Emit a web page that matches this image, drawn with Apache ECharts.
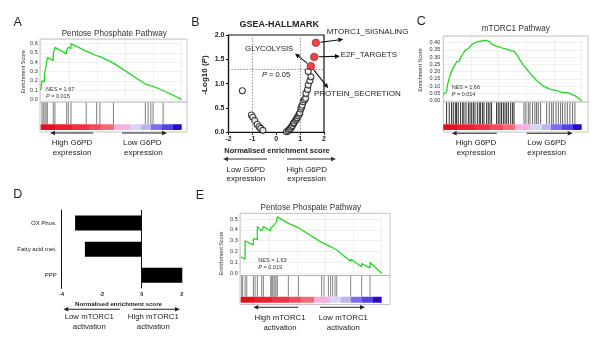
<!DOCTYPE html>
<html><head><meta charset="utf-8">
<script src="https://cdn.jsdelivr.net/npm/echarts@6/dist/echarts.min.js"></script>
<style>html,body{margin:0;padding:0;background:#fff}#c{width:600px;height:338px}</style>
</head><body><div id="c"></div>
<script>
// ---------------- DATA ----------------
// Panel A: Pentose Phosphate Pathway (G6PD) running enrichment score [rank %, ES]
const aCurve = [[0,0.10],[0.9,0.10],[0.9,0.20],[2.6,0.19],[2.6,0.27],[3.8,0.26],[3.8,0.36],[4.7,0.35],[4.7,0.45],[8.9,0.42],[8.9,0.49],[10.1,0.48],[10.1,0.56],[18.4,0.49],[18.4,0.53],[19.6,0.52],[19.6,0.56],[21.5,0.55],[21.5,0.60],[32.1,0.52],[32.1,0.53],[39.7,0.47],[39.7,0.48],[42.1,0.46],[42.1,0.465],[51.6,0.39],[51.6,0.40],[74.2,0.165],[74.2,0.17],[76.2,0.155],[76.2,0.16],[78.1,0.145],[79.7,0.14],[79.7,0.15],[86.8,0.095],[86.8,0.115],[100,0.0]];
const aHits = [0.9,1.8,3.0,3.8,4.7,8.9,10.1,18.4,19.6,21.5,32.3,39.7,42.0,51.6,74.2,76.2,78.1,79.7,86.8];
const aStats = {nes:'1.67', p:'0.015'};
const aYTicks = [0, 0.1, 0.6];

// Panel C: mTORC1 Pathway
const cCurve = [[0,0.045],[1.0,0.035],[2.4,0.06],[3.0,0.11],[4.3,0.12],[4.8,0.17],[6.0,0.18],[6.7,0.22],[8.0,0.22],[8.7,0.25],[9.6,0.27],[10.8,0.28],[11.5,0.27],[12.5,0.30],[13.5,0.30],[14.0,0.32],[15.6,0.345],[16.4,0.34],[18.1,0.36],[19.3,0.37],[20.5,0.385],[21.7,0.39],[22.9,0.40],[24.6,0.405],[26.0,0.415],[27.0,0.41],[28.4,0.405],[29.4,0.415],[30.1,0.41],[31.3,0.415],[32.5,0.42],[33.7,0.405],[34.9,0.39],[36.1,0.385],[38.5,0.375],[40.9,0.37],[43.4,0.36],[45.8,0.355],[48.7,0.345],[51.1,0.34],[53,0.32],[55.5,0.28],[57.8,0.245],[60,0.22],[62.6,0.19],[65,0.165],[67.4,0.14],[70,0.12],[72.2,0.10],[74.7,0.09],[77,0.08],[79.5,0.075],[81.9,0.07],[84.8,0.06],[86.7,0.055],[89.6,0.055],[91.5,0.05],[93.4,0.04],[95.1,0.035],[96.3,0.03],[98,0.015],[100,0.0]];
const cHits = [2.4,4.3,6.0,7.2,8.7,9.6,10.8,12.5,14.0,14.9,16.4,18.1,19.3,20.5,21.7,22.9,24.6,26.0,27.0,28.4,29.4,31.3,32.5,33.7,34.9,38.5,39.7,40.9,42.1,43.4,44.6,45.8,47.0,48.7,50.1,51.1,58.3,59.7,61.4,62.6,64.5,66.2,67.4,68.6,70.3,74.7,76.6,78.3,79.5,81.4,83.1,84.8,86.2,87.9,89.6,91.5,93.4,95.1];
const cStats = {nes:'1.66', p:'0.014'};
const cYTicks = [0, 0.05, 0.40];

// Panel E: Pentose Phospate Pathway (mTORC1)
const eCurve = [[0,0.15],[3.1,0.13],[3.1,0.30],[9.0,0.26],[9.0,0.32],[11.8,0.31],[11.8,0.43],[14.9,0.39],[16.1,0.38],[16.1,0.43],[21.3,0.39],[21.3,0.42],[22.7,0.41],[23.6,0.44],[24.3,0.44],[25.1,0.47],[26.0,0.52],[33.8,0.46],[33.8,0.47],[40.9,0.42],[40.9,0.43],[57.4,0.285],[57.4,0.29],[59.1,0.275],[59.1,0.28],[62.2,0.255],[62.2,0.26],[65.2,0.235],[65.2,0.24],[68.1,0.215],[68.1,0.22],[78.0,0.11],[78.0,0.13],[85.8,0.06],[85.8,0.09],[91.7,0.05],[91.7,0.10],[100,0]];
const eHits = [0.7,1.4,3.1,4.3,9.0,10.2,11.8,14.9,16.1,21.3,22.0,22.7,23.6,24.3,25.1,26.0,33.8,40.9,57.4,59.1,62.2,63.8,65.2,66.9,68.1,78.0,85.8,91.7];
const eStats = {nes:'1.63', p:'0.019'};
const eYTicks = [0, 0.1, 0.5];

// Panel B: GSEA-HALLMARK volcano [NES, -log10 P]
const bOpen = [[-1.42,0.855],[-1.04,0.355],[-0.98,0.31],[-0.9,0.24],[-0.8,0.165],[-0.72,0.115],[-0.65,0.08],[-0.56,0.04],
  [0.43,0.01],[0.5,0.03],[0.55,0.06],[0.6,0.08],[0.64,0.115],[0.68,0.14],[0.72,0.18],[0.75,0.2],[0.8,0.24],[0.85,0.27],[0.88,0.3],[0.92,0.335],[0.96,0.37],[0.99,0.4],[1.03,0.48],[1.06,0.52],[1.09,0.56],[1.13,0.63],[1.18,0.67],[1.23,0.70],[1.24,0.80],[1.31,0.88],[1.34,0.97],[1.41,1.06],[1.45,1.14],[1.34,1.25]];
const bSig = [[1.66,1.84],[1.59,1.55],[1.45,1.36]];
const bSigNames = ['MTORC1_SIGNALING','E2F_TARGETS','GLYCOLYSIS','PROTEIN_SECRETION'];
const bXTicks = [-2,-1,0,1,2];
const bYTicks = [0,0.5,1.0,1.5,2.0];
const bThresholds = {nes:[-1,1], logp:1.3};

// Panel D: NES bars
const dCategories = ['OX Phos.','Fatty acid met.','PPP'];
const dNES = [-3.33,-2.84,2.03];
const dXTicks = [-4,-2,0,2];

// ---------------- BUILD ----------------
const FONT = '"Liberation Sans", Arial, Helvetica, sans-serif';
const grids = [], xAxes = [], yAxes = [], series = [], graphics = [];
const BAR_STOPS = [[0,'#e50f1f'],[0.1,'#ec1f31'],[0.22,'#ef3143'],[0.34,'#f24b5c'],[0.43,'#f56a78'],[0.52,'#f7b0dd'],[0.63,'#d8d5f6'],[0.71,'#bcb5f2'],[0.78,'#7a6ef0'],[0.86,'#5343e6'],[0.94,'#2a0bc9'],[1,'#2a0bc9']];
function gradStops(){
  const s=[];
  for(let i=0;i<BAR_STOPS.length-1;i++){
    s.push({offset:BAR_STOPS[i][0],color:BAR_STOPS[i][1]});
    s.push({offset:BAR_STOPS[i+1][0],color:BAR_STOPS[i][1]});
  }
  return s;
}
function txt(x,y,text,size,o){
  o=o||{};
  const el={type:'text',x:x,y:y,z:100,silent:true,style:{text:text,x:0,y:0,
    font:(o.italic?'italic ':'')+(o.bold?'bold ':'')+size+'px '+FONT,fill:o.color||'#222',
    align:o.align||'center',verticalAlign:'middle'}};
  if(o.rich) el.style.rich=o.rich;
  if(o.rot) el.rotation=o.rot;
  graphics.push(el);
}
function arrow(x1,y1,x2,y2,col,w){
  col=col||'#222';
  const dx=x2-x1, dy=y2-y1, L=Math.hypot(dx,dy), ux=dx/L, uy=dy/L, hl=5, hw=2.3;
  const bx=x2-ux*hl, by=y2-uy*hl;
  graphics.push({type:'line',z:100,silent:true,shape:{x1:x1,y1:y1,x2:bx,y2:by},style:{stroke:col,lineWidth:w||1.1}});
  graphics.push({type:'polygon',z:100,silent:true,shape:{points:[[x2,y2],[bx-uy*hw,by+ux*hw],[bx+uy*hw,by-ux*hw]]},style:{fill:col}});
}
function addAxisPair(gi, xa, ya){
  xa.gridIndex=gi; ya.gridIndex=gi; xAxes.push(xa); yAxes.push(ya);
}
function hidden(min,max){
  return {type:'value',min:min,max:max,show:false};
}
function addGsea(c){
  // frame
  graphics.push({type:'rect',z:1,silent:true,shape:{x:c.box[0],y:c.box[1],width:c.box[2]-c.box[0],height:c.box[3]-c.box[1]},style:{fill:'none',stroke:'#b5b5b5',lineWidth:0.8}});
  graphics.push({type:'line',z:1,silent:true,shape:{x1:c.box[0],y1:c.sep,x2:c.box[2],y2:c.sep},style:{stroke:'#9a9a9a',lineWidth:0.8}});
  // curve grid
  let gi=grids.length;
  grids.push({left:c.l,top:c.t,width:c.r-c.l,height:c.b-c.t});
  addAxisPair(gi,
    {type:'value',min:0,max:100,interval:20,axisLine:{show:false},axisTick:{show:false},axisLabel:{show:false},splitLine:{show:true,lineStyle:{color:'#ececec',width:0.8}}},
    {type:'value',min:c.ticks[0],max:c.yMax,interval:c.ticks[1],axisLine:{show:false},axisTick:{show:false},
     axisLabel:{fontSize:5.5,fontFamily:FONT,color:'#333',margin:3,showMaxLabel:false,formatter:v=>v.toFixed(c.dec)},
     splitLine:{show:true,lineStyle:{color:'#ececec',width:0.8}}});
  series.push({type:'line',xAxisIndex:gi,yAxisIndex:gi,data:c.curve,showSymbol:false,clip:false,
    lineStyle:{color:'#22d922',width:1.3},itemStyle:{color:'#22d922'},z:5});
  // hits
  gi=grids.length;
  grids.push({left:c.l,top:c.hitTop,width:c.r-c.l,height:c.barTop-c.hitTop});
  addAxisPair(gi,hidden(0,100),hidden(0,1));
  series.push({type:'custom',xAxisIndex:gi,yAxisIndex:gi,data:c.hits.map(v=>[v]),encode:{x:0},
    renderItem:function(params,api){
      const x=api.value(0), p0=api.coord([x,0]), p1=api.coord([x,1]);
      const col = c.hitColor(x);
      return {type:'line',shape:{x1:p0[0],y1:p0[1],x2:p1[0],y2:p1[1]},style:{stroke:col,lineWidth:1}};
    }});
  // colour bar
  gi=grids.length;
  grids.push({left:c.l,top:c.barTop,width:c.r-c.l,height:c.barBot-c.barTop});
  addAxisPair(gi,hidden(0,100),hidden(0,1));
  series.push({type:'custom',xAxisIndex:gi,yAxisIndex:gi,data:[[0,100]],encode:{x:[0,1]},
    renderItem:function(params,api){
      const a=api.coord([api.value(0),0]), b=api.coord([api.value(1),1]);
      return {type:'rect',shape:{x:a[0],y:b[1],width:b[0]-a[0],height:a[1]-b[1]},
        style:{fill:new echarts.graphic.LinearGradient(0,0,1,0,gradStops())}};
    }});
  // stats text
  txt(c.nesX,c.nesY,'NES = '+c.stats.nes,5.5,{align:'left',color:'#333'});
  txt(c.nesX,c.nesY+7.6,'{i|P} = '+c.stats.p,5.5,{align:'left',color:'#333',rich:{i:{fontStyle:'italic',fontSize:5.5,fontFamily:FONT,fill:'#333'}}});
  txt(c.yNameX,c.yNameY,'Enrichment Score',5.5,{rot:Math.PI/2,color:'#333'});
}

// A
addGsea({box:[40,39,187,132],sep:102,l:40.7,r:181.7,t:39,b:99.3,yMax:0.6507,ticks:aYTicks,dec:1,curve:aCurve,
  hitTop:102.5,barTop:124.2,barBot:130,hits:aHits,hitColor:()=> '#7d7d7d',stats:aStats,nesX:46,nesY:89.2,yNameX:23,yNameY:71.7});
// C
addGsea({box:[443.3,36,588,132],sep:102,l:443.3,r:581.7,t:36,b:100.7,yMax:0.446,ticks:cYTicks,dec:2,curve:cCurve,
  hitTop:102.5,barTop:124.2,barBot:130,hits:cHits,hitColor:x=> x<55?'#2e2e2e':'#6a6a6a',stats:cStats,nesX:451.7,nesY:87.3,yNameX:420,yNameY:70});
// E
addGsea({box:[240,213.3,390,304.5],sep:275.5,l:240.7,r:381.7,t:213.3,b:273.3,yMax:0.5525,ticks:eYTicks,dec:1,curve:eCurve,
  hitTop:276,barTop:296.7,barBot:302.7,hits:eHits,hitColor:()=> '#858585',stats:eStats,nesX:258.3,nesY:260,yNameX:221.7,yNameY:253.3});

// B scatter
const bGrid = grids.length;
grids.push({left:228.5,top:35,width:95.5,height:97.3,show:true,borderColor:'#111',borderWidth:1.2,backgroundColor:'transparent'});
addAxisPair(bGrid,
  {type:'value',min:bXTicks[0],max:bXTicks[bXTicks.length-1],interval:1,axisLine:{onZero:false,lineStyle:{color:'#111',width:1.2}},
   axisTick:{length:2.5,lineStyle:{color:'#111',width:1}},splitLine:{show:false},
   axisLabel:{fontSize:7,fontWeight:'bold',fontFamily:FONT,color:'#222',margin:3}},
  {type:'value',min:bYTicks[0],max:bYTicks[bYTicks.length-1],interval:0.5,axisLine:{onZero:false,lineStyle:{color:'#111',width:1.2}},
   axisTick:{length:2.5,lineStyle:{color:'#111',width:1}},splitLine:{show:false},
   axisLabel:{fontSize:7,fontWeight:'bold',fontFamily:FONT,color:'#222',margin:4,formatter:v=>v.toFixed(1)}});
series.push({type:'scatter',xAxisIndex:bGrid,yAxisIndex:bGrid,data:bOpen,symbolSize:6,clip:false,
  itemStyle:{color:'#ffffff',borderColor:'#111',borderWidth:1.1},z:4,
  markLine:{silent:true,symbol:'none',label:{show:false},lineStyle:{type:[1.5,1.5],color:'#888',width:0.9},
    data:[{xAxis:bThresholds.nes[0]},{xAxis:bThresholds.nes[1]},{yAxis:bThresholds.logp}]}});
series.push({type:'scatter',xAxisIndex:bGrid,yAxisIndex:bGrid,data:bSig,symbolSize:7.5,clip:false,
  itemStyle:{color:'#e8141b',borderColor:'#7a0a0a',borderWidth:0.7},z:6});

// D bars
const dGrid = grids.length;
grids.push({left:61.7,top:210,width:120,height:78.3});
addAxisPair(dGrid,
  {type:'value',min:dXTicks[0],max:dXTicks[dXTicks.length-1],interval:dXTicks[1]-dXTicks[0],
   axisLine:{onZero:false,lineStyle:{color:'#111',width:1}},axisTick:{length:2.5,lineStyle:{color:'#111'}},splitLine:{show:false},
   axisLabel:{fontSize:5.5,fontWeight:'bold',fontFamily:FONT,color:'#222',margin:3.5}},
  {type:'category',data:dCategories,inverse:true,axisLine:{onZero:false,lineStyle:{color:'#111',width:1}},
   axisTick:{alignWithLabel:true,length:2.5,lineStyle:{color:'#111'}},
   axisLabel:{fontSize:6,fontFamily:FONT,color:'#222',margin:5}});
series.push({type:'bar',xAxisIndex:dGrid,yAxisIndex:dGrid,data:dNES,barWidth:15,clip:false,itemStyle:{color:'#000'},
  markLine:{silent:true,symbol:'none',label:{show:false},lineStyle:{type:'solid',color:'#111',width:1},data:[{xAxis:0}]}});

// ---------------- TEXT & ARROWS ----------------
txt(17.7,22.8,'A',12.5); txt(195.5,22.8,'B',12.5); txt(421.3,21.3,'C',12.5); txt(17.7,194.7,'D',12.5); txt(200,196,'E',12.5);
txt(114.2,33.3,'Pentose Phosphate Pathway',8.2,{color:'#333'});
txt(515.8,28.7,'mTORC1 Pathway',8.2,{color:'#333'});
txt(310.8,207.7,'Pentose Phospate Pathway',8.2,{color:'#333'});
txt(279.2,24.3,'GSEA-HALLMARK',9,{bold:true});

// A labels
arrow(93,133,50,133); arrow(122,133,167,133);
txt(72,142.7,'High G6PD',8); txt(72,152.7,'expression',8);
txt(142.3,142.7,'Low G6PD',8); txt(143.3,152.7,'expression',8);
// C labels
arrow(496.7,133.3,451.7,133.3); arrow(526.7,133.3,572.7,133.3);
txt(476,142.7,'High G6PD',8); txt(476,153,'expression',8);
txt(546.7,142.7,'Low G6PD',8); txt(546.7,153,'expression',8);
// B labels
txt(205,75,'-Log10 ({i|P})',8,{bold:true,rot:Math.PI/2,rich:{i:{fontStyle:'italic',fontWeight:'bold',fontSize:8,fontFamily:FONT,fill:'#222'}}});
txt(277,150.7,'Normalised enrichment score',7.5,{bold:true});
txt(276,75,'{i|P} = 0.05',7.5,{rich:{i:{fontStyle:'italic',fontSize:7.5,fontFamily:FONT,fill:'#222'}}});
arrow(267,159,223,159,'#333',1); arrow(287,159,336,159,'#333',1);
txt(245.8,169.3,'Low G6PD',8); txt(245.8,179,'expression',8);
txt(306.7,169.3,'High G6PD',8); txt(306.7,179,'expression',8);
txt(326.7,31.5,bSigNames[0],8,{align:'left'});
txt(340.7,54.5,bSigNames[1],8,{align:'left'});
txt(269.2,49,bSigNames[2],7.8);
txt(314,94,bSigNames[3],8,{align:'left'});
// D labels
txt(118.5,304.3,'Normalised enrichment score',6.2,{bold:true});
arrow(120,309.3,63.3,309.3); arrow(133.3,309.3,180,309.3);
txt(89.3,316.7,'Low mTORC1',7.8); txt(89.3,326.7,'activation',7.8);
txt(153.3,316.7,'High mTORC1',7.8); txt(153.3,326.7,'activation',7.8);
// E labels
arrow(298.3,307.3,253.3,307.3); arrow(320,307.3,365,307.3);
txt(280,317.7,'High mTORC1',7.8); txt(280,327.7,'activation',7.8);
txt(343.3,317.7,'Low mTORC1',7.8); txt(343.3,327.7,'activation',7.8);

const chart = echarts.init(document.getElementById('c'),null,{renderer:'canvas'});
chart.setOption({animation:false,backgroundColor:'#fff',textStyle:{fontFamily:FONT},
  grid:grids,xAxis:xAxes,yAxis:yAxes,series:series,graphic:graphics});

// annotation arrows in B, anchored to the significant points via the chart's scales
const ends = [[[343.3,39.3]],[[340,56.3]],[[295,53.5],[328.3,88.3]]];
bSig.forEach((pt,i)=>{
  const p = chart.convertToPixel({gridIndex:bGrid},pt);
  ends[i].forEach(e=>{
    const dx=e[0]-p[0], dy=e[1]-p[1], L=Math.hypot(dx,dy);
    arrow(p[0]+dx/L*4.5,p[1]+dy/L*4.5,e[0],e[1],'#111',1.1);
  });
});
chart.setOption({graphic:graphics});
</script>
</body></html>
